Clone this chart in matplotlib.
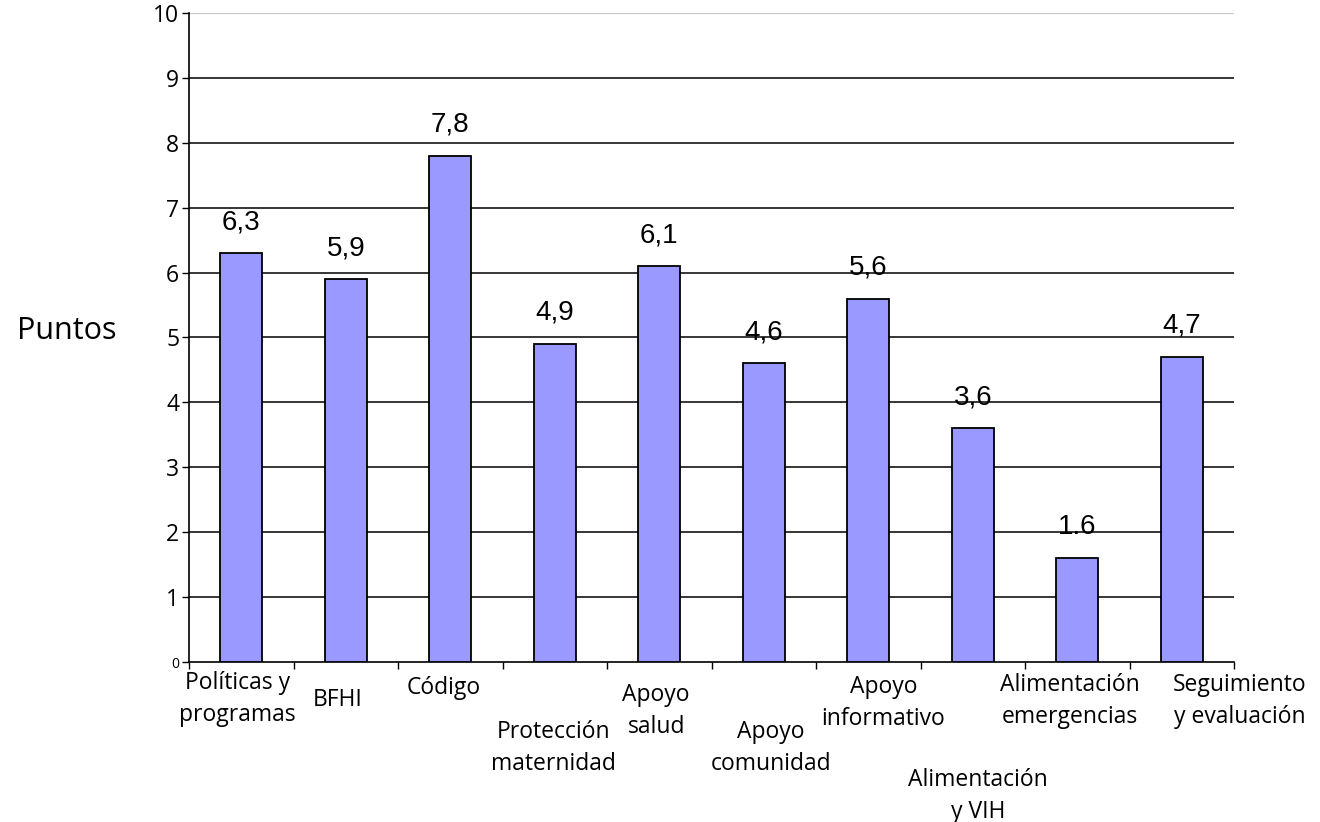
import numpy as np
import matplotlib.pyplot as plt
from matplotlib.ticker import FixedLocator

categorias = ["Políticas y\nprogramas", "BFHI", "Código", "Protección\nmaternidad",
              "Apoyo\nsalud", "Apoyo\ncomunidad", "Apoyo\ninformativo",
              "Alimentación\ny VIH", "Alimentación\nemergencias", "Seguimiento\ny evaluación"]
puntos = [6.3, 5.9, 7.8, 4.9, 6.1, 4.6, 5.6, 3.6, 1.6, 4.7]
etiquetas = ["6,3", "5,9", "7,8", "4,9", "6,1", "4,6", "5,6", "3,6", "1.6", "4,7"]

# label offsets (pixels) below the axis, staggered like the original
lab_dx = [-4, -8, -7, -1, -3, 7, 15, 5, -7, 58]
lab_dy = [-9, -26, -14, -58, -21, -58, -13, -106, -11, -11]

fig = plt.figure(figsize=(13.2, 8.22), dpi=100)
ax = fig.add_axes([189 / 1320, 1 - 662 / 822, 1045 / 1320, 649 / 822])

x = np.arange(len(puntos))
ax.bar(x, puntos, width=0.4, color="#9999FF", edgecolor="black", linewidth=1.3, zorder=3)

# value labels above each bar
for i, (v, t) in enumerate(zip(puntos, etiquetas)):
    ax.annotate(t, xy=(i, v), xytext=(0, 31), textcoords="offset pixels",
                ha="center", va="center", fontsize=20, family="Liberation Sans")

for i, c in enumerate(categorias):
    ax.annotate(c, xy=(i, 0), xytext=(lab_dx[i], lab_dy[i]), textcoords="offset pixels",
                ha="center", va="top", fontsize=16.5, family="Open Sans", linespacing=1.42)

ax.set_xlim(-0.5, 9.5)
ax.set_ylim(0, 10)
for yv in range(1, 10):
    ax.axhline(yv, color="black", linewidth=1.1, zorder=1)
ax.axhline(10, color="#cccccc", linewidth=1.0, zorder=1)

ax.xaxis.set_major_locator(FixedLocator(np.arange(-0.5, 10, 1)))
ax.set_xticklabels([])
ax.set_yticks(range(0, 11))
ax.set_yticklabels([str(v) for v in range(0, 11)], family="Open Sans", fontsize=16.5)
ax.get_yticklabels()[0].set_fontsize(10)
ax.tick_params(axis="both", length=5, width=1, color="black")
ax.tick_params(axis="y", pad=2)

for s in ["top", "right"]:
    ax.spines[s].set_visible(False)
ax.spines["left"].set_linewidth(1.2)
ax.spines["bottom"].set_linewidth(1.2)

fig.text(67 / 1320, 1 - 331 / 822, "Puntos", ha="center", va="center",
         fontsize=22, family="Open Sans")

fig.savefig("out.png", dpi=100)
